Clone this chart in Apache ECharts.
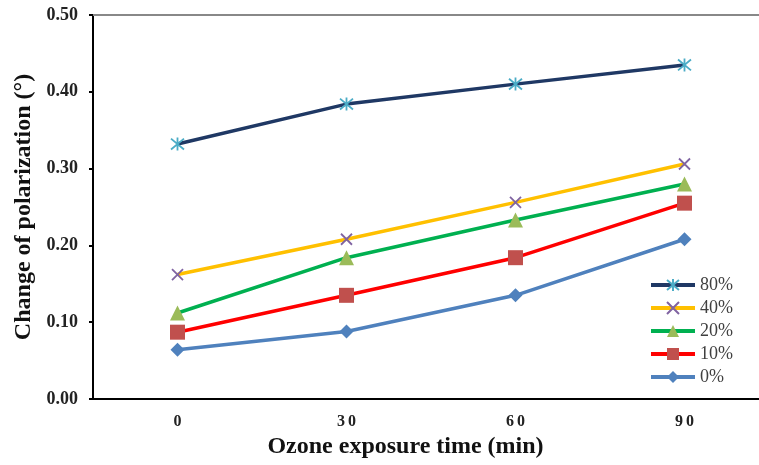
<!DOCTYPE html>
<html lang="en">
<head>
    <meta charset="UTF-8">
    <title>Change of polarization</title>
    <style>
        * { margin: 0; padding: 0; }
        body { background: #fff; }
        #main { width: 759px; height: 465px; }
    </style>
</head>
<body>
    <div id="main"></div>
</body>
<script src="https://cdn.jsdelivr.net/npm/echarts@6/dist/echarts.min.js"></script>
<script>
    // ozone exposure time (min)
    let times = ['0', '30', '60', '90'];
    let yTicks = [0, 0.1, 0.2, 0.3, 0.4, 0.5];

    let s80 = [0.332, 0.384, 0.410, 0.435];
    let s40 = [0.162, 0.208, 0.256, 0.306];
    let s20 = [0.112, 0.184, 0.233, 0.280];
    let s10 = [0.087, 0.135, 0.184, 0.255];
    let s0 = [0.064, 0.088, 0.135, 0.208];

    let seriesNames = ['80%', '40%', '20%', '10%', '0%'];

    const serif = 'Liberation Serif';
    const asterisk = 'path://M0,0L10,10M10,0L0,10M5,-1L5,11';
    const cross = 'path://M0,0L10,10M10,0L0,10';

    function makeLine(name, data, lineColor, markColor, symbol, size, strokeOnly) {
        return {
            name: name,
            type: 'line',
            data: data,
            symbol: symbol,
            symbolSize: size,
            lineStyle: { color: lineColor, width: 3.5 },
            itemStyle: strokeOnly
                ? { color: markColor, borderColor: markColor, borderWidth: 1.8 }
                : { color: markColor, borderWidth: 0 },
            z: 2
        }
    }

    let series = [
        makeLine(seriesNames[0], s80, '#1f3864', '#4bacc6', asterisk, 13, true),
        makeLine(seriesNames[1], s40, '#ffc000', '#8064a2', cross, 11, true),
        makeLine(seriesNames[2], s20, '#00b050', '#9bbb59', 'triangle', 15, false),
        makeLine(seriesNames[3], s10, '#ff0000', '#c0504d', 'rect', 15, false),
        makeLine(seriesNames[4], s0, '#4f81bd', '#4f81bd', 'diamond', 14, false)
    ];

    let option = {
        animation: false,
        backgroundColor: '#fff',
        grid: {
            left: 93,
            top: 15,
            width: 676,
            height: 384,
            outerBoundsMode: 'none'
        },
        legend: {
            orient: 'vertical',
            left: 644,
            top: 271,
            itemWidth: 44,
            itemHeight: 15,
            itemGap: 5,
            data: seriesNames,
            lineStyle: { width: 4 },
            textStyle: { fontFamily: serif, fontSize: 18, color: '#404040' }
        },
        xAxis: [{
            type: 'category',
            data: times,
            name: 'Ozone exposure time (min)',
            nameLocation: 'middle',
            nameGap: 36,
            nameTextStyle: {
                fontFamily: serif, fontSize: 24, fontWeight: 'bold', color: '#111',
                padding: [0, 51, 0, 0]
            },
            axisLine: { lineStyle: { color: '#000', width: 2 } },
            axisTick: { alignWithLabel: true, length: 3, lineStyle: { color: '#000', width: 2 } },
            axisLabel: {
                margin: 15,
                fontFamily: serif, fontSize: 16, fontWeight: 'bold', color: '#222',
                formatter: v => v.split('').join('\u2009')
            },
            splitLine: { show: false }
        }, {
            // top frame line only
            type: 'category',
            data: times,
            position: 'top',
            axisLine: { show: true, lineStyle: { color: '#888', width: 2 } },
            axisTick: { show: false },
            axisLabel: { show: false },
            splitLine: { show: false }
        }],
        yAxis: {
            type: 'value',
            min: yTicks[0],
            max: yTicks[yTicks.length - 1],
            interval: 0.1,
            name: 'Change of polarization (°)',
            nameLocation: 'middle',
            nameGap: 56,
            nameTextStyle: { fontFamily: serif, fontSize: 24, fontWeight: 'bold', color: '#111' },
            axisLine: { show: true, lineStyle: { color: '#000', width: 2 } },
            axisTick: { show: true, length: 4, lineStyle: { color: '#000', width: 2 } },
            axisLabel: {
                margin: 15,
                fontFamily: serif, fontSize: 18, fontWeight: 'bold', color: '#222',
                formatter: v => v.toFixed(2)
            },
            splitLine: { show: false }
        },
        series: series
    };

    let myChart = echarts.init(document.getElementById('main'));
    myChart.setOption(option);
</script>
</html>
